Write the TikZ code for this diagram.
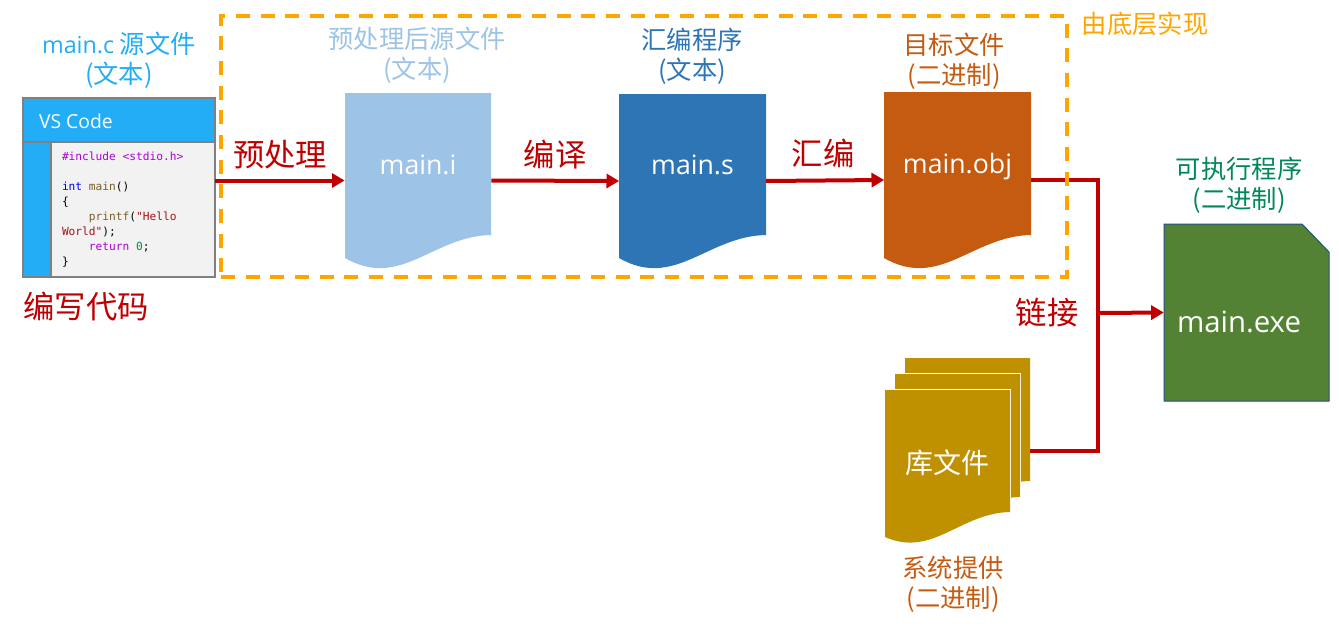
\documentclass[tikz,border=0pt]{standalone}
\usepackage{fontspec}
\setmainfont{Open Sans}
\setmonofont{DejaVu Sans Mono}
\newfontfamily\cjk{Noto Sans CJK SC}
\usepackage{xcolor}
\usetikzlibrary{arrows.meta,positioning}
\definecolor{vsblue}{HTML}{22ADF6}
\definecolor{linkred}{HTML}{C00000}
\definecolor{implorange}{HTML}{FFA500}
\definecolor{pale}{HTML}{9DC3E6}
\definecolor{midblue}{HTML}{2E75B6}
\definecolor{rust}{HTML}{C55A11}
\definecolor{libgold}{HTML}{BF9000}
\definecolor{exegreen}{HTML}{548235}
\definecolor{exetitle}{HTML}{00875A}
% sheet with a wavy foot: left, top, width, foot at left, foot at right, dip, colour
\newcommand{\docsheet}[7]{%
  \fill[#7] (#1,#2) -- ({#1+#3},#2) -- ({#1+#3},#5)
    .. controls ({#1+0.6*#3},{#5+1}) and ({#1+0.38*#3},{#4+#6}) .. (#1,#4) -- cycle;
}
\begin{document}
\begin{tikzpicture}[
  x=0.75pt, y=-0.75pt,
  every node/.style={align=center, inner sep=0pt, outer sep=0pt},
  title/.style={font=\cjk\fontsize{19}{22.5}\selectfont},
  step label/.style={font=\cjk\fontsize{23.5}{28}\selectfont, text=linkred},
  doc/.style={minimum width=110pt, minimum height=131pt},
  doctext/.style={font=\fontsize{20}{24}\selectfont, text=white},
  code/.style={font=\ttfamily\fontsize{8.4}{11.25}\selectfont, align=left, anchor=north west},
  arr/.style={-{Triangle[length=9.5pt,width=10.5pt]}, line width=3pt, draw=linkred},
  wire/.style={line width=3pt, draw=linkred}
]
\useasboundingbox (0,0) rectangle (1339,632);

% editor window
\node[draw=gray, line width=1pt, fill=vsblue, minimum width=144pt, minimum height=134.25pt, anchor=north west] (vscode) at (23,98) {};
\node[draw=gray, line width=1pt, fill=vsblue, minimum width=144pt, minimum height=33pt, anchor=north west] (vsbar) at (23,98) {};
\node[draw=gray, line width=1pt, fill=black!5, minimum width=123pt, minimum height=101.25pt, anchor=north east] (codepane) at (215,142) {};
\node[font=\fontsize{14.5}{17}\selectfont, text=white, anchor=west] (vstext) at (39,121) {VS Code};
\node[code] (codetext) at (62,152) {\textcolor[HTML]{AF00DB}{\#include <stdio.h>}\\[11.25pt]
\textcolor{blue}{int} \textcolor[HTML]{795E26}{main}()\\
\{\\
\ \ \ \ \textcolor[HTML]{795E26}{printf}(\textcolor[HTML]{A31515}{"Hello}\\
\textcolor[HTML]{A31515}{World"});\\
\ \ \ \ \textcolor[HTML]{AF00DB}{return} \textcolor[HTML]{098658}{0};\\
\}};

% sheets
\docsheet{345}{93}{146}{258}{235}{32}{pale}
\docsheet{619}{94}{147}{258}{235}{32}{midblue}
\docsheet{884}{92}{147}{258}{235}{32}{rust}
\node[doc] (maini) at (418,180.5) {};
\node[doc] (mains) at (692.5,181) {};
\node[doc] (mainobj) at (957.5,180) {};
\node[doctext] (textI) at (418,165) {main.i};
\node[doctext] (textS) at (692.5,165) {main.s};
\node[doctext] (textObj) at (957.5,167) {main.obj};

% library stack
\docsheet{905}{358}{125}{503}{481}{21}{libgold}
\fill[white] (895,373) rectangle (1021,498);
\docsheet{895}{374}{125}{519}{497}{21}{libgold}
\fill[white] (884,389) rectangle (1011,513);
\docsheet{885}{390}{125}{537}{512}{21}{libgold}
\node[minimum width=109pt, minimum height=139pt] (libstack) at (957.5,450.5) {};
\node[font=\cjk\fontsize{21}{25}\selectfont, text=white] (libtext) at (947,463) {库文件};

% executable
\node[minimum width=124pt, minimum height=133pt] (mainexe) at (1246.5,312.5) {};
\draw[draw=black!30!midblue, line width=0.75pt, fill=exegreen] (1164,224) -- (1302,224) -- (1329,252) -- (1329,401) -- (1164,401) -- cycle;
\node[doctext, font=\fontsize{22}{26}\selectfont] (textExe) at (1239,322) {main.exe};

% connectors
\coordinate (joint) at (1098,313);
\draw[arr] (vscode.east |- maini.west) -- (maini.west);
\draw[arr] (maini.east) -- (mains.west);
\draw[arr] (mains.east) -- (mainobj.west);
\draw[wire] (mainobj.east) -| (joint);
\draw[wire] (libstack.east) -| (joint);
\draw[arr] (joint) -- (mainexe.west);

% scope of the toolchain
\node[draw=implorange, line width=2.7pt, dash pattern=on 10.5pt off 8pt, minimum width=634.5pt, minimum height=195.75pt, anchor=north west] (impl) at (221,16) {};
\node[title, text=implorange] (impltext) at (1145,24) {由底层实现};

% titles
\node[title, text=vsblue] (titleC) at (119,60) {{\fontfamily{\rmdefault}\fontsize{17.5}{22.5}\selectfont main.c} 源文件\\(文本)};
\node[title, text=pale] (titleI) at (417,55) {预处理后源文件\\(文本)};
\node[title, text=midblue] (titleS) at (692,56) {汇编程序\\(文本)};
\node[title, text=rust] (titleObj) at (954,61) {目标文件\\(二进制)};
\node[title, text=exetitle] (titleExe) at (1239,185) {可执行程序\\(二进制)};
\node[title, text=rust] (titleLib) at (953,584) {系统提供\\(二进制)};

% step labels
\node[step label] (stepWrite) at (86,307) {编写代码};
\node[step label] (stepPre) at (280,155) {预处理};
\node[step label] (stepCompile) at (555,155) {编译};
\node[step label] (stepAsm) at (823,153) {汇编};
\node[step label] (stepLink) at (1047,313) {链接};
\end{tikzpicture}
\end{document}
